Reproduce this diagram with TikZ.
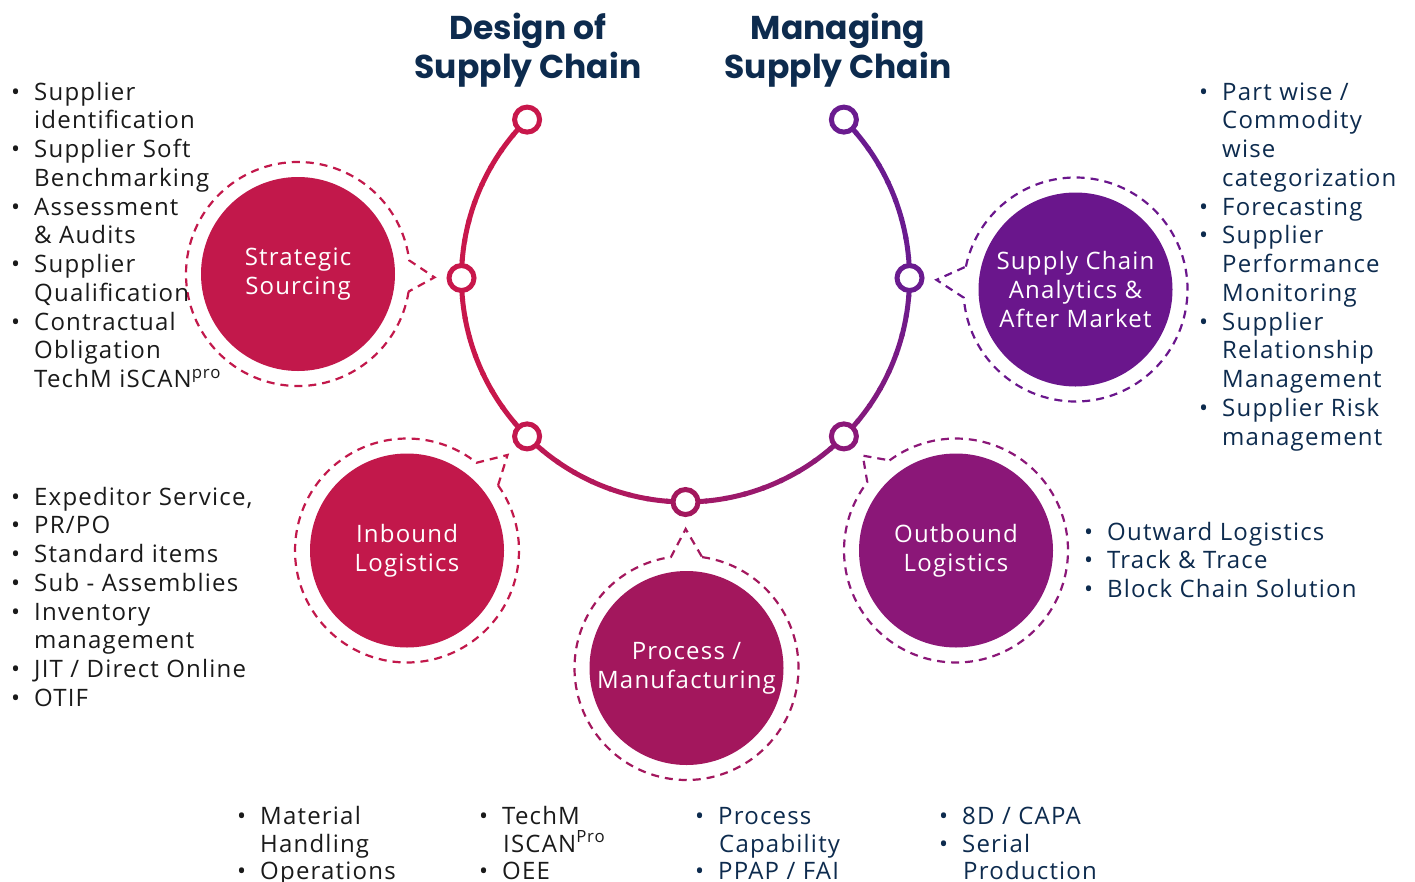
\documentclass[tikz,border=0pt]{standalone}
\usepackage{fontspec}
\setmainfont{Open Sans}[LetterSpace=5]
\newfontfamily\titlefont{Poppins}
\usetikzlibrary{calc}
\definecolor{crimson}{HTML}{C8174B}
\definecolor{ssfill}{HTML}{C2184B}
\definecolor{pmfill}{HTML}{A3175D}
\definecolor{obfill}{HTML}{8B1778}
\definecolor{scfill}{HTML}{6A168C}
\definecolor{purp}{HTML}{6A1B8F}
\definecolor{navy}{HTML}{0D2B4E}
\definecolor{ink}{HTML}{1A1A1A}
\newcommand\bu{\makebox[23pt][l]{\textbullet}}
\newcommand\bubblering[5]{% center node, angle, tip, colour, half-angle
  \draw[ringline,#4] ($(#1)+(#2+#5:112)$) arc[start angle=#2+#5, end angle=#2-#5+360, radius=112] -- (#3) -- cycle;}
\begin{document}
\begin{tikzpicture}[x=1pt,y=-1pt,
  bubble/.style={circle, minimum size=194pt, inner sep=0pt, text=white, align=center, font=\fontsize{24}{29}\selectfont},
  ringline/.style={dash pattern=on 8pt off 6pt, line width=2.2pt, line join=miter},
  dotnode/.style={circle, minimum size=25pt, inner sep=0pt, line width=5pt, fill=white},
  li/.style={anchor=base west, inner sep=0pt, font=\fontsize{24}{29}\selectfont},
  ttl/.style={anchor=base, inner sep=0pt, font=\titlefont\bfseries\fontsize{33}{39}\selectfont, text=navy},
]
\useasboundingbox (0,0) rectangle (1415,881);

% titles
\node[ttl] (t1a) at (528,39) {Design of};
\node[ttl] (t1b) at (528,78) {Supply Chain};
\node[ttl] (t2a) at (838,39) {Managing};
\node[ttl] (t2b) at (838,78) {Supply Chain};

% main arc
\coordinate (C) at (685.5,278);
\foreach \a in {225,220,...,-40}{
  \pgfmathsetmacro\t{min(100,max(0,(150-\a)/150*100))}
  \draw[line width=5pt, color=purp!\t!crimson] ($(C)+(\a:224)$) arc[start angle=\a, end angle=\a-5.6, radius=224];
}
\node[dotnode, draw=crimson] (d1) at ($(C)+(225:224)$) {};
\node[dotnode, draw=crimson] (d2) at ($(C)+(180:224)$) {};
\node[dotnode, draw=crimson!95!purp] (d3) at ($(C)+(135:224)$) {};
\node[dotnode, draw=pmfill] (d4) at ($(C)+(90:224)$) {};
\node[dotnode, draw=obfill] (d5) at ($(C)+(45:224)$) {};
\node[dotnode, draw=purp] (d6) at ($(C)+(0:224)$) {};
\node[dotnode, draw=purp] (d7) at ($(C)+(-45:224)$) {};

% bubbles
\node[bubble, fill=ssfill] (ss) at (298,274) {Strategic\\Sourcing};
\node[bubble, fill=ssfill] (il) at (407,550.5) {Inbound\\Logistics};
\node[bubble, fill=pmfill] (pm) at (686.5,668) {Process /\\Manufacturing};
\node[bubble, fill=obfill] (ob) at (956,550.5) {Outbound\\Logistics};
\node[bubble, fill=scfill] (sc) at (1075.5,289.5) {Supply Chain\\Analytics \&\\After Market};

\coordinate (tss) at ($(d2)!27pt!(ss)$);
\coordinate (til) at ($(d3)!27pt!(il)$);
\coordinate (tpm) at ($(d4)!27pt!(pm)$);
\coordinate (tob) at ($(d5)!27pt!(ob)$);
\coordinate (tsc) at ($(d6)!27pt!(sc)$);
\bubblering{ss}{1}{tss}{ssfill}{8}
\bubblering{il}{-43.6}{til}{ssfill}{8}
\bubblering{pm}{-90}{tpm}{pmfill}{8}
\bubblering{ob}{-134.4}{tob}{obfill}{8}
\bubblering{sc}{183.8}{tsc}{scfill}{8}

% strategic sourcing list
\begin{scope}[every node/.append style={text=ink}]
\node[li] (a0) at (11,100) {\bu Supplier};
\node[li] (a1) at (34,128.75) {identification};
\node[li] (a2) at (11,157.5) {\bu Supplier Soft};
\node[li] (a3) at (34,186.25) {Benchmarking};
\node[li] (a4) at (11,215) {\bu Assessment};
\node[li] (a5) at (34,243.75) {\& Audits};
\node[li] (a6) at (11,272.5) {\bu Supplier};
\node[li] (a7) at (34,301.25) {Qualification};
\node[li] (a8) at (11,330) {\bu Contractual};
\node[li] (a9) at (34,358.75) {Obligation};
\node[li] (a10) at (34,387.5) {TechM iSCAN\textsuperscript{pro}};
% inbound list
\node[li] (b0) at (11,505) {\bu Expeditor Service,};
\node[li] (b1) at (11,533.75) {\bu PR/PO};
\node[li] (b2) at (11,562.5) {\bu Standard items};
\node[li] (b3) at (11,591.25) {\bu Sub - Assemblies};
\node[li] (b4) at (11,620) {\bu Inventory};
\node[li] (b5) at (34,648.75) {management};
\node[li] (b6) at (11,677.5) {\bu JIT / Direct Online};
\node[li] (b7) at (11,706.25) {\bu OTIF};
% bottom columns 1-2
\node[li] (e0) at (237,824) {\bu Material};
\node[li] (e1) at (260,852) {Handling};
\node[li] (e2) at (237,879.5) {\bu Operations};
\node[li] (f0) at (479,824) {\bu TechM};
\node[li] (f1) at (503,852) {ISCAN\textsuperscript{Pro}};
\node[li] (f2) at (479,879.5) {\bu OEE};
\end{scope}

\begin{scope}[every node/.append style={text=navy}]
% analytics list
\node[li] (c0) at (1199,100) {\bu Part wise /};
\node[li] (c1) at (1222,128.75) {Commodity};
\node[li] (c2) at (1222,157.5) {wise};
\node[li] (c3) at (1222,186.25) {categorization};
\node[li] (c4) at (1199,215) {\bu Forecasting};
\node[li] (c5) at (1199,243.75) {\bu Supplier};
\node[li] (c6) at (1222,272.5) {Performance};
\node[li] (c7) at (1222,301.25) {Monitoring};
\node[li] (c8) at (1199,330) {\bu Supplier};
\node[li] (c9) at (1222,358.75) {Relationship};
\node[li] (c10) at (1222,387.5) {Management};
\node[li] (c11) at (1199,416.25) {\bu Supplier Risk};
\node[li] (c12) at (1222,445) {management};
% outbound list
\node[li] (g0) at (1084,540) {\bu Outward Logistics};
\node[li] (g1) at (1084,568.75) {\bu Track \& Trace};
\node[li] (g2) at (1084,597.5) {\bu Block Chain Solution};
% bottom columns 3-4
\node[li] (h0) at (695,824) {\bu Process};
\node[li] (h1) at (719,852) {Capability};
\node[li] (h2) at (695,879.5) {\bu PPAP / FAI};
\node[li] (k0) at (939,824) {\bu 8D / CAPA};
\node[li] (k1) at (939,852) {\bu Serial};
\node[li] (k2) at (963,879.5) {Production};
\end{scope}
\end{tikzpicture}
\end{document}
